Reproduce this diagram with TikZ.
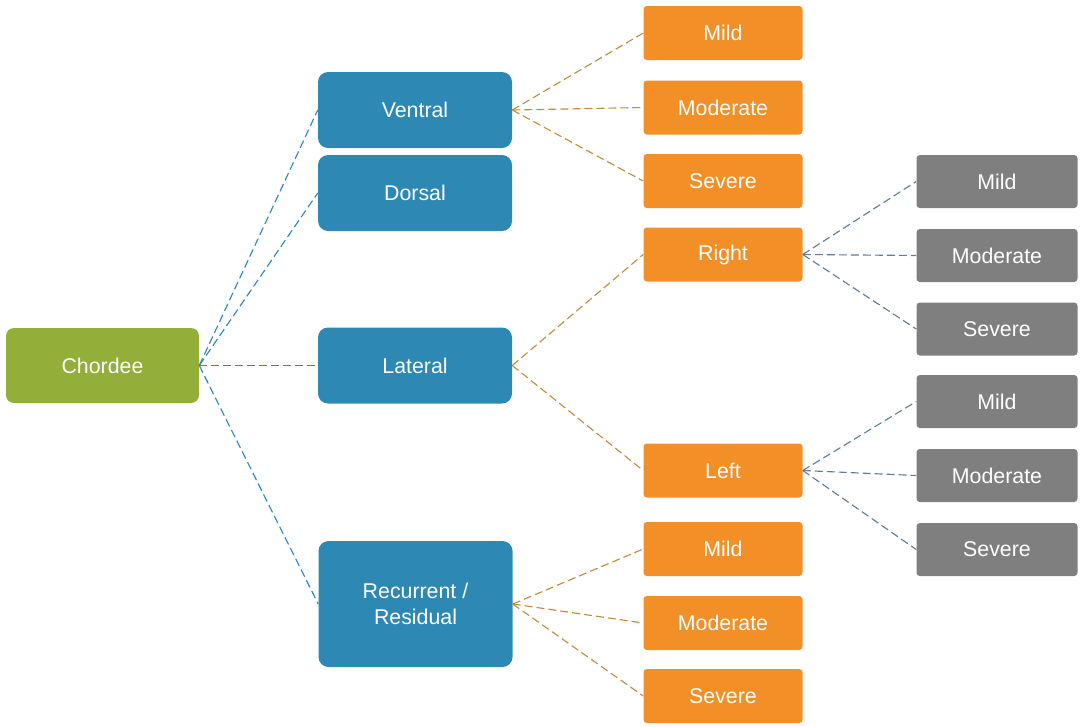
\documentclass[tikz,border=0pt]{standalone}
\usepackage{fontspec}
\setmainfont{Liberation Sans}
\definecolor{cgreen}{HTML}{94AE3A}
\definecolor{cblue}{HTML}{2E88B4}
\definecolor{corange}{HTML}{F29027}
\definecolor{cgray}{HTML}{7F7F80}
\definecolor{lblue}{HTML}{2E86C1}
\definecolor{lbrown}{HTML}{C28C3C}
\definecolor{lslate}{HTML}{5F7E98}
\begin{document}
\begin{tikzpicture}[x=0.75pt,y=-0.75pt,
  box/.style={inner sep=0pt, text=white, font=\fontsize{16}{19.5}\selectfont, align=center},
  rootbox/.style={box, fill=cgreen, rounded corners=6pt, minimum width=144.75pt, minimum height=56.25pt},
  catbox/.style={box, fill=cblue, rounded corners=7.5pt, minimum width=145.5pt, minimum height=57pt},
  sevbox/.style={box, fill=corange, rounded corners=2.5pt, minimum width=119.25pt, minimum height=40.5pt},
  graybox/.style={box, fill=cgray, rounded corners=2.5pt, minimum width=120.75pt, minimum height=39.75pt},
  lk/.style={dash pattern=on 6pt off 3pt, line width=0.85pt},
  lkb/.style={lk, draw=lblue},
  lko/.style={lk, draw=lbrown},
  lkg/.style={lk, draw=lslate}]
\useasboundingbox (0,0) rectangle (1080,726);
\node[rootbox] (chordee) at (102.5,365.5) {Chordee};
\node[catbox] (ventral) at (415,110) {Ventral};
\node[catbox] (dorsal) at (415,193) {Dorsal};
\node[catbox] (lateral) at (415,365.5) {Lateral};
\node[catbox, minimum height=94.5pt] (recur) at (415.5,604) {Recurrent /\\Residual};
\node[sevbox] (vmild) at (723,33) {Mild};
\node[sevbox] (vmod) at (723,107.5) {Moderate};
\node[sevbox] (vsev) at (723,181) {Severe};
\node[sevbox] (right) at (723,254.5) {Right};
\node[sevbox] (left) at (723,470.5) {Left};
\node[sevbox] (rmild) at (723,549) {Mild};
\node[sevbox] (rmod) at (723,623) {Moderate};
\node[sevbox] (rsev) at (723,696) {Severe};
\node[graybox] (grmild) at (997,181.5) {Mild};
\node[graybox] (grmod) at (997,255.5) {Moderate};
\node[graybox] (grsev) at (997,329) {Severe};
\node[graybox] (glmild) at (997,401.5) {Mild};
\node[graybox] (glmod) at (997,475.5) {Moderate};
\node[graybox] (glsev) at (997,549.5) {Severe};
\foreach \t in {ventral,dorsal,lateral,recur} \draw[lkb] (chordee.east) -- (\t.west);
\foreach \t in {vmild,vmod,vsev} \draw[lko] (ventral.east) -- (\t.west);
\foreach \t in {right,left} \draw[lko] (lateral.east) -- (\t.west);
\foreach \t in {rmild,rmod,rsev} \draw[lko] (recur.east) -- (\t.west);
\foreach \t in {grmild,grmod,grsev} \draw[lkg] (right.east) -- (\t.west);
\foreach \t in {glmild,glmod,glsev} \draw[lkg] (left.east) -- (\t.west);
\end{tikzpicture}
\end{document}
